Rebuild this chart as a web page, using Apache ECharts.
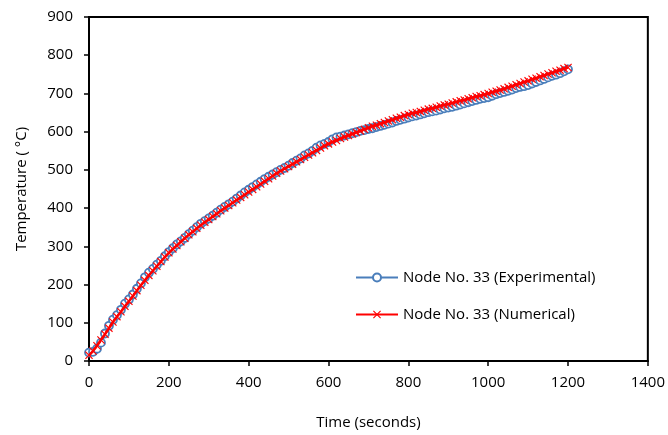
<!DOCTYPE html>
<html>
<head>
<meta charset="utf-8">
<script src="https://cdn.jsdelivr.net/npm/echarts@6/dist/echarts.min.js"></script>
<style>html,body{margin:0;padding:0;background:#fff;}#c{width:668px;height:435px;}</style>
</head>
<body>
<div id="c"></div>
<script>
var times = [0,10,20,30,40,50,60,70,80,90,100,110,120,130,140,150,160,170,180,190,200,210,220,230,240,250,260,270,280,290,300,310,320,330,340,350,360,370,380,390,400,410,420,430,440,450,460,470,480,490,500,510,520,530,540,550,560,570,580,590,600,610,620,630,640,650,660,670,680,690,700,710,720,730,740,750,760,770,780,790,800,810,820,830,840,850,860,870,880,890,900,910,920,930,940,950,960,970,980,990,1000,1010,1020,1030,1040,1050,1060,1070,1080,1090,1100,1110,1120,1130,1140,1150,1160,1170,1180,1190,1200];
var experimental = [22,24,32,48,72,92,108,120,134,150,161,174,189,203,219,231,241,252,262,274,285,295,305,313,322,332,341,350,359,366,373,380,388,396,403,410,417,425,433,441,448,455,462,469,476,482,488,494,500,505,511,518,524,530,538,543,550,558,564,568,573,580,585,587,590,593,596,599,602,604,607,609,612,615,618,621,624,628,631,634,637,640,642,645,648,651,653,655,658,661,663,665,668,671,674,677,680,683,686,688,690,694,698,701,704,707,710,714,717,719,722,726,730,734,738,742,746,749,753,758,763];
var numerical = [15,26,40,55,70,86,102,116,129,143,156,170,184,198,211,224,236,248,260,272,283,293,302,312,321,330,338,347,355,363,370,378,385,393,400,407,414,421,428,435,442,449,456,463,470,477,484,491,497,503,509,515,521,527,533,539,545,551,557,563,568,573,577,582,586,590,594,598,602,606,610,614,617,621,624,628,631,635,638,642,645,648,650,653,656,659,661,664,667,670,672,675,678,681,683,686,689,692,694,697,700,703,706,709,712,716,719,723,726,730,733,737,740,744,747,751,754,758,761,765,768];
var seriesNames = ['Node No. 33 (Experimental)', 'Node No. 33 (Numerical)'];
var xTitle = 'Time (seconds)';
var yTitle = 'Temperature ( \u00B0C)';

function pairs(t, v){ return t.map(function(x,i){ return [x, v[i]]; }); }
var crossPath = 'path://M0,1 L1,0 L5,4 L9,0 L10,1 L6,5 L10,9 L9,10 L5,6 L1,10 L0,9 L4,5 Z';
var font = 'Open Sans';

var chart = echarts.init(document.getElementById('c'));
chart.setOption({
  animation: false,
  backgroundColor: '#fff',
  grid: {left: 89, right: 19, top: 17, bottom: 74, show: true, borderColor: '#000', borderWidth: 2, backgroundColor: 'transparent'},
  legend: {
    orient: 'vertical', left: 350, top: 265, itemGap: 22, itemWidth: 42, itemHeight: 10,
    textStyle: {fontFamily: font, fontSize: 15, color: '#000'},
    data: [
      {name: seriesNames[0]},
      {name: seriesNames[1]}
    ]
  },
  xAxis: {
    type: 'value', min: 0, max: 1400, interval: 200,
    name: xTitle, nameLocation: 'middle', nameGap: 54,
    nameTextStyle: {fontFamily: font, fontSize: 15, color: '#000'},
    axisLine: {show: true, lineStyle: {color: '#000', width: 2}},
    axisTick: {show: true, inside: false, length: 5, lineStyle: {color: '#000', width: 1.5}},
    axisLabel: {fontFamily: font, fontSize: 15, color: '#000', margin: 14, formatter: function(v){ return String(v); }},
    splitLine: {show: false}
  },
  yAxis: {
    type: 'value', min: 0, max: 900, interval: 100,
    name: yTitle, nameLocation: 'middle', nameGap: 60,
    nameTextStyle: {fontFamily: font, fontSize: 15, color: '#000'},
    axisLine: {show: true, lineStyle: {color: '#000', width: 2}},
    axisTick: {show: true, inside: false, length: 5, lineStyle: {color: '#000', width: 1.5}},
    axisLabel: {fontFamily: font, fontSize: 15, color: '#000', margin: 16, formatter: function(v){ return String(v); }},
    splitLine: {show: false}
  },
  series: [
    {
      name: seriesNames[0], type: 'line', data: pairs(times, experimental),
      symbol: 'circle', symbolSize: 8, showAllSymbol: true,
      lineStyle: {color: '#4a7ebb', width: 2.5},
      itemStyle: {color: '#ffffff', borderColor: '#4a7ebb', borderWidth: 1.8},
      z: 2
    },
    {
      name: seriesNames[1], type: 'line', data: pairs(times, numerical),
      symbol: crossPath, symbolSize: 8, showAllSymbol: true,
      lineStyle: {color: '#ff0000', width: 2.5},
      itemStyle: {color: '#ff0000'},
      z: 3
    }
  ]
});
</script>
</body>
</html>
